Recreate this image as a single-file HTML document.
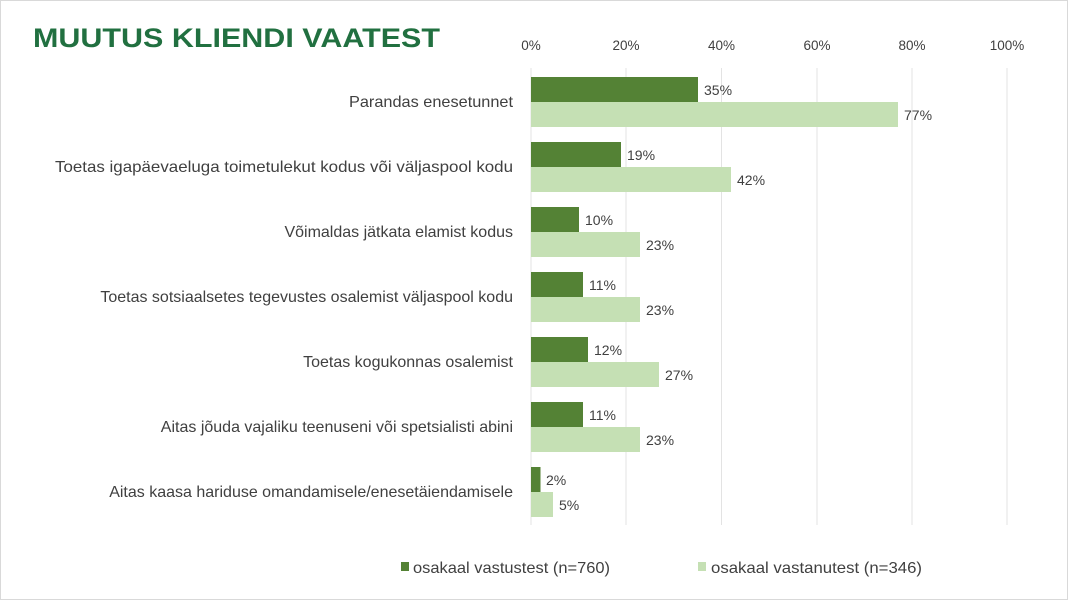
<!DOCTYPE html>
<html><head><meta charset="utf-8"><style>
body{margin:0;background:#fff}
svg{display:block}
text{font-family:"Liberation Sans",sans-serif;fill:#404040}
</style></head><body>
<svg width="1068" height="600" xmlns="http://www.w3.org/2000/svg">
<rect x="0.5" y="0.5" width="1067" height="599" fill="#fff" stroke="#d9d9d9"/>
<text x="33" y="47" style="font-size:27px;font-weight:bold;fill:#217040" textLength="407" lengthAdjust="spacingAndGlyphs">MUUTUS KLIENDI VAATEST</text>
<g stroke="#e3e3e3" stroke-width="1">
<line x1="531" y1="68" x2="531" y2="525"/><line x1="626" y1="68" x2="626" y2="525"/><line x1="721.5" y1="68" x2="721.5" y2="525"/><line x1="817" y1="68" x2="817" y2="525"/><line x1="912" y1="68" x2="912" y2="525"/><line x1="1007" y1="68" x2="1007" y2="525"/>
</g>
<g style="font-size:13.5px" text-anchor="middle">
<text x="531" y="50">0%</text><text x="626" y="50">20%</text><text x="721.5" y="50">40%</text><text x="817" y="50">60%</text><text x="912" y="50">80%</text><text x="1007" y="50">100%</text>
</g>
<g style="font-size:16px" text-anchor="end">
<text x="513" y="107" textLength="164" lengthAdjust="spacingAndGlyphs">Parandas enesetunnet</text>
<text x="513" y="172" textLength="458" lengthAdjust="spacingAndGlyphs">Toetas igapäevaeluga toimetulekut kodus või väljaspool kodu</text>
<text x="513" y="237">Võimaldas jätkata elamist kodus</text>
<text x="513" y="302">Toetas sotsiaalsetes tegevustes osalemist väljaspool kodu</text>
<text x="513" y="367">Toetas kogukonnas osalemist</text>
<text x="513" y="432">Aitas jõuda vajaliku teenuseni või spetsialisti abini</text>
<text x="513" y="497">Aitas kaasa hariduse omandamisele/enesetäiendamisele</text>
</g>
<g fill="#548235">
<rect x="531" y="77" width="167" height="25"/>
<rect x="531" y="142" width="90" height="25"/>
<rect x="531" y="207" width="48" height="25"/>
<rect x="531" y="272" width="52" height="25"/>
<rect x="531" y="337" width="57" height="25"/>
<rect x="531" y="402" width="52" height="25"/>
<rect x="531" y="467" width="9.5" height="25"/>
</g>
<g fill="#c5e0b4">
<rect x="531" y="102" width="367" height="25"/>
<rect x="531" y="167" width="200" height="25"/>
<rect x="531" y="232" width="109" height="25"/>
<rect x="531" y="297" width="109" height="25"/>
<rect x="531" y="362" width="128" height="25"/>
<rect x="531" y="427" width="109" height="25"/>
<rect x="531" y="492" width="22" height="25"/>
</g>
<g style="font-size:14px">
<text x="704" y="95">35%</text><text x="904" y="120">77%</text>
<text x="627" y="160">19%</text><text x="737" y="185">42%</text>
<text x="585" y="225">10%</text><text x="646" y="250">23%</text>
<text x="589" y="290">11%</text><text x="646" y="315">23%</text>
<text x="594" y="355">12%</text><text x="665" y="380">27%</text>
<text x="589" y="420">11%</text><text x="646" y="445">23%</text>
<text x="546" y="485">2%</text><text x="559" y="510">5%</text>
</g>
<rect x="401" y="562" width="8" height="9" fill="#548235"/>
<text x="413" y="573" style="font-size:16px" textLength="197" lengthAdjust="spacingAndGlyphs">osakaal vastustest (n=760)</text>
<rect x="698" y="562" width="8" height="9" fill="#c5e0b4"/>
<text x="711" y="573" style="font-size:16px" textLength="211" lengthAdjust="spacingAndGlyphs">osakaal vastanutest (n=346)</text>
</svg>
</body></html>
